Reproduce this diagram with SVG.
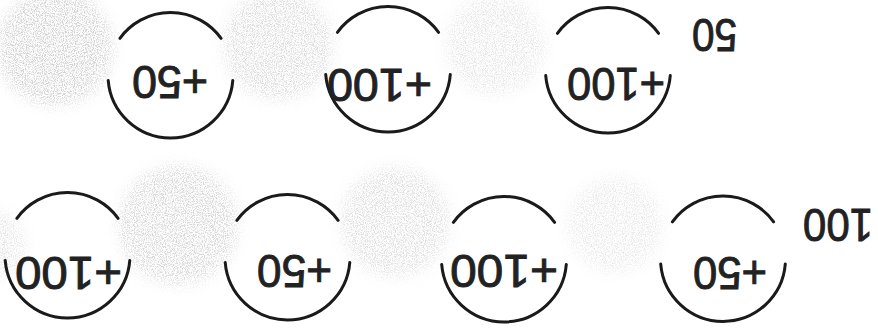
<svg xmlns="http://www.w3.org/2000/svg" width="878" height="335" viewBox="0 0 878 335">
<style>
.ring{fill:none;stroke:#1a1a1a;stroke-width:3;stroke-linecap:round}
.lbl{font-family:"Liberation Sans",Arial,sans-serif;font-size:46px;fill:#222222;stroke:#222222;stroke-width:0.9;text-anchor:middle}
.blob{fill:#9a9a9a;filter:url(#speck)}
</style>
<defs>
<filter id="speck" x="-30%" y="-30%" width="160%" height="160%">
<feGaussianBlur in="SourceGraphic" stdDeviation="7" result="b"/>
<feTurbulence type="fractalNoise" baseFrequency="0.9" numOctaves="2" seed="4" result="n"/>
<feColorMatrix in="n" type="matrix" values="0 0 0 0 0.6 0 0 0 0 0.6 0 0 0 0 0.6 4 0 0 0 -1.7" result="d"/>
<feComposite in="d" in2="b" operator="in"/>
</filter>
</defs>
<rect width="878" height="335" fill="#ffffff"/>
<g id="background-shading">
<circle class="blob" cx="55" cy="48" r="58" opacity="0.85"/>
<circle class="blob" cx="278" cy="45" r="55" opacity="0.65"/>
<circle class="blob" cx="495" cy="45" r="50" opacity="0.45"/>
<circle class="blob" cx="178" cy="225" r="60" opacity="0.75"/>
<circle class="blob" cx="395" cy="222" r="55" opacity="0.6"/>
<circle class="blob" cx="615" cy="225" r="48" opacity="0.4"/>
<circle class="blob" cx="-10" cy="245" r="35" opacity="0.5"/>
</g>
<g id="label-50">
<text class="lbl" x="714.5" y="51.5" textLength="45" lengthAdjust="spacingAndGlyphs" transform="rotate(180 714.5 35)">50</text>
</g>
<g id="label-100">
<text class="lbl" x="838" y="242" textLength="70" lengthAdjust="spacingAndGlyphs" transform="rotate(180 838 225.5)">100</text>
</g>
<g id="node-top-1">
<path class="ring" d="M119.9 38.3A62.5 62.5 0 0 1 221.1 38.3M232.8 80.4A62.5 62.5 0 0 1 108.2 80.4"/>
<text class="lbl" x="170" y="99" textLength="76" lengthAdjust="spacingAndGlyphs" transform="rotate(180 170 82.5)">+50</text>
</g>
<g id="node-top-2">
<path class="ring" d="M337.4 32.3A62.5 62.5 0 0 1 438.6 32.3M450.3 74.4A62.5 62.5 0 0 1 325.7 74.4"/>
<text class="lbl" x="379.5" y="101.5" textLength="105" lengthAdjust="spacingAndGlyphs" transform="rotate(180 379.5 85)">+100</text>
</g>
<g id="node-top-3">
<path class="ring" d="M557.4 33.3A62.5 62.5 0 0 1 658.6 33.3M670.3 75.4A62.5 62.5 0 0 1 545.7 75.4"/>
<text class="lbl" x="616" y="100.5" textLength="98" lengthAdjust="spacingAndGlyphs" transform="rotate(180 616 84)">+100</text>
</g>
<g id="node-bottom-1">
<path class="ring" d="M16.9 218.3A62.5 62.5 0 0 1 118.1 218.3M129.8 260.4A62.5 62.5 0 0 1 5.2 260.4"/>
<text class="lbl" x="68.5" y="290" textLength="107" lengthAdjust="spacingAndGlyphs" transform="rotate(180 68.5 273.5)">+100</text>
</g>
<g id="node-bottom-2">
<path class="ring" d="M236.9 220.3A62.5 62.5 0 0 1 338.1 220.3M349.8 262.4A62.5 62.5 0 0 1 225.2 262.4"/>
<text class="lbl" x="294.5" y="288" textLength="75" lengthAdjust="spacingAndGlyphs" transform="rotate(180 294.5 271.5)">+50</text>
</g>
<g id="node-bottom-3">
<path class="ring" d="M453.4 222.3A62.5 62.5 0 0 1 554.6 222.3M566.3 264.4A62.5 62.5 0 0 1 441.7 264.4"/>
<text class="lbl" x="504" y="288" textLength="108" lengthAdjust="spacingAndGlyphs" transform="rotate(180 504 271.5)">+100</text>
</g>
<g id="node-bottom-4">
<path class="ring" d="M672.4 221.8A62.5 62.5 0 0 1 773.6 221.8M785.3 263.9A62.5 62.5 0 0 1 660.7 263.9"/>
<text class="lbl" x="730" y="290" textLength="74" lengthAdjust="spacingAndGlyphs" transform="rotate(180 730 273.5)">+50</text>
</g>
</svg>
